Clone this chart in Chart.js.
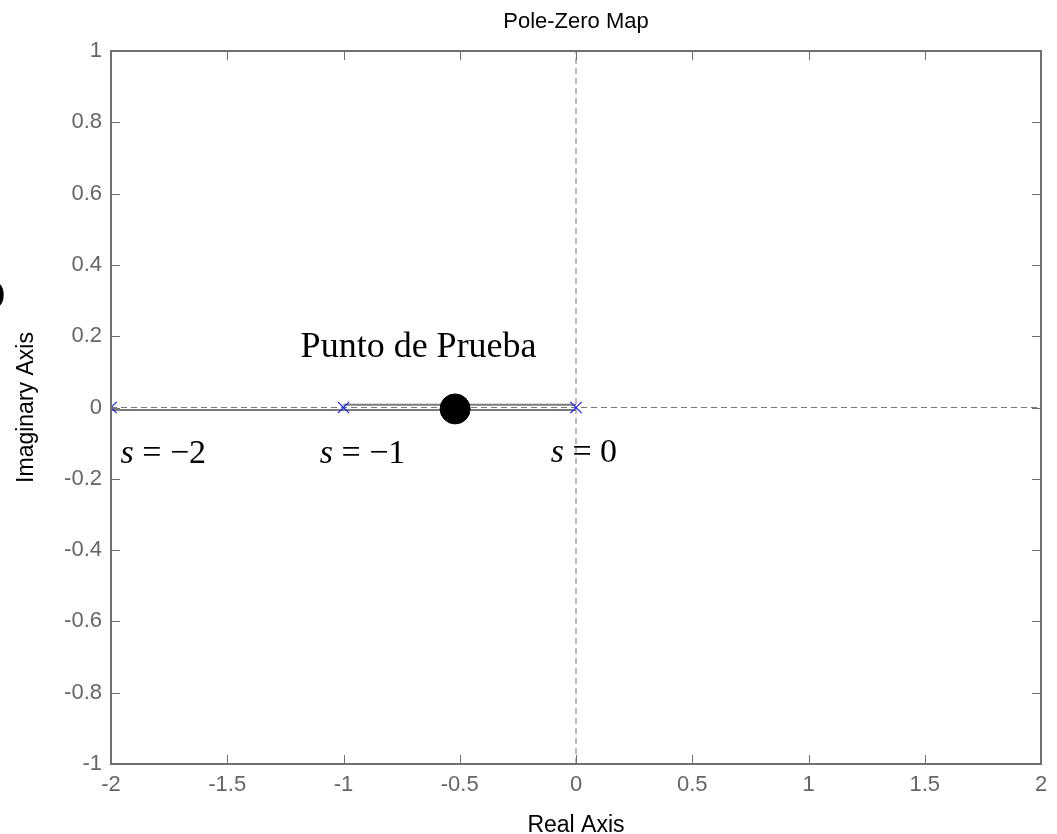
<!DOCTYPE html>
<html>
<head>
<meta charset="utf-8">
<script src="https://cdn.jsdelivr.net/npm/chart.js@4.4.1/dist/chart.umd.min.js"></script>
<style>
  html, body { margin: 0; padding: 0; background: #fff; }
  #wrap { width: 1057px; height: 834px; position: relative; }
</style>
</head>
<body>
<div id="wrap"><canvas id="myChart" width="1057" height="834"></canvas></div>
<script>
// polos del sistema
var poleX = [-2, -1, 0];
var poleY = [0, 0, 0];
// lugar de raices (segmentos sobre el eje real)
var locusLowX = [-2, 0];
var locusLowY = [-0.007, -0.007];
var locusHighX = [-1, 0];
var locusHighY = [0.008, 0.008];
// punto de prueba
var testX = [-0.52];
var testY = [-0.004];
// ejes
var xTicks = [-2, -1.5, -1, -0.5, 0, 0.5, 1, 1.5, 2];
var yTicks = [-1, -0.8, -0.6, -0.4, -0.2, 0, 0.2, 0.4, 0.6, 0.8, 1];
// etiquetas
var labelText = ['Punto de Prueba', 's = \u22122', 's = \u22121', 's = 0'];
var labelX = [-0.677, -1.775, -0.918, 0.034];
var labelY = [0.141, -0.155, -0.155, -0.152];

function pts(xs, ys) {
  return xs.map(function (x, i) { return { x: x, y: ys[i] }; });
}

var grayAxis = '#707070';
var sans = '"Liberation Sans", Arial, sans-serif';
var serif = '"Liberation Serif", "Times New Roman", serif';

// ticks hacia adentro en los cuatro lados, caja y textos
var boxPlugin = {
  id: 'box',
  afterDatasetsDraw: function (chart) {
    var c = chart.ctx, a = chart.chartArea;
    var sx = chart.scales.x, sy = chart.scales.y;
    c.save();
    c.strokeStyle = grayAxis;
    c.lineWidth = 1;
    c.beginPath();
    xTicks.forEach(function (v) {
      var px = Math.round(sx.getPixelForValue(v)) + 0.5;
      c.moveTo(px, a.bottom); c.lineTo(px, a.bottom - 9);
      c.moveTo(px, a.top); c.lineTo(px, a.top + 9);
    });
    yTicks.forEach(function (v) {
      var py = Math.round(sy.getPixelForValue(v)) + 0.5;
      c.moveTo(a.left, py); c.lineTo(a.left + 9, py);
      c.moveTo(a.right, py); c.lineTo(a.right - 9, py);
    });
    c.stroke();
    c.lineWidth = 2;
    c.strokeRect(a.left, a.top, a.right - a.left, a.bottom - a.top);

    // etiquetas de los puntos
    c.fillStyle = '#000';
    c.textBaseline = 'alphabetic';
    labelText.forEach(function (t, i) {
      var px = sx.getPixelForValue(labelX[i]);
      var py = sy.getPixelForValue(labelY[i]);
      if (i === 0) {
        c.textAlign = 'center';
        c.font = '36px ' + serif;
        c.fillText(t, px, py);
      } else {
        var s = 's';
        var rest = t.slice(1);
        c.font = 'italic 34px ' + serif;
        var w1 = c.measureText(s).width;
        c.font = '34px ' + serif;
        var w2 = c.measureText(rest).width;
        var x0 = px - (w1 + w2) / 2;
        c.textAlign = 'left';
        c.font = 'italic 34px ' + serif;
        c.fillText(s, x0, py);
        c.font = '34px ' + serif;
        c.fillText(rest, x0 + w1, py);
      }
    });

    // titulo y nombres de ejes
    c.fillStyle = '#000';
    c.textAlign = 'center';
    c.font = '22px ' + sans;
    c.fillText('Pole-Zero Map', (a.left + a.right) / 2, 28);
    c.font = '23px ' + sans;
    c.fillText('Real Axis', (a.left + a.right) / 2, 832);
    c.save();
    c.translate(33, (a.top + a.bottom) / 2);
    c.rotate(-Math.PI / 2);
    c.fillText('Imaginary Axis', 0, 0);
    c.restore();

    // resto de un simbolo recortado en el borde izquierdo
    c.font = 'bold 30px ' + serif;
    c.textAlign = 'right';
    c.textBaseline = 'middle';
    c.fillText(')', 5, 294);
    c.restore();
  }
};

var ctx = document.getElementById('myChart').getContext('2d');
var myChart = new Chart(ctx, {
  type: 'scatter',
  data: {
    datasets: [
      {
        label: 'polos',
        data: pts(poleX, poleY),
        pointStyle: 'crossRot',
        pointRadius: 8,
        pointBorderWidth: 1.2,
        borderColor: '#1a1aff',
        backgroundColor: '#1a1aff',
        order: 1
      },
      {
        label: 'punto',
        data: pts(testX, testY),
        pointRadius: 15,
        backgroundColor: '#000',
        borderColor: '#000',
        order: 0
      },
      {
        label: 'lugar1',
        data: pts(locusLowX, locusLowY),
        showLine: true,
        borderColor: '#7a7a7a',
        borderWidth: 2,
        pointRadius: 0,
        order: 2
      },
      {
        label: 'lugar2',
        data: pts(locusHighX, locusHighY),
        showLine: true,
        borderColor: '#7a7a7a',
        borderWidth: 2,
        pointRadius: 0,
        order: 2
      },
      {
        label: 'ejeReal',
        data: pts([-2, 2], [0, 0]),
        showLine: true,
        borderColor: '#777',
        borderWidth: 1,
        borderDash: [6, 4],
        pointRadius: 0,
        order: 3
      },
      {
        label: 'ejeImag',
        data: pts([0, 0], [-1, 1]),
        showLine: true,
        borderColor: '#777',
        borderWidth: 1,
        borderDash: [6, 4],
        pointRadius: 0,
        order: 3
      }
    ]
  },
  options: {
    responsive: false,
    animation: false,
    layout: { padding: { left: 0, right: 12, top: 51, bottom: 0 } },
    plugins: { legend: { display: false }, tooltip: { enabled: false } },
    scales: {
      x: {
        type: 'linear',
        min: -2, max: 2,
        afterFit: function (s) { s.height = 70; s.paddingLeft = 0; s.paddingRight = 0; },
        afterBuildTicks: function (s) { s.ticks = xTicks.map(function (v) { return { value: v }; }); },
        grid: { drawOnChartArea: false, drawTicks: false },
        border: { display: false },
        ticks: {
          color: '#666',
          font: { family: sans, size: 22 },
          padding: 8,
          maxRotation: 0,
          callback: function (v) { return String(v); }
        }
      },
      y: {
        type: 'linear',
        min: -1, max: 1,
        afterFit: function (s) { s.width = 111; s.paddingTop = 0; s.paddingBottom = 0; },
        afterBuildTicks: function (s) { s.ticks = yTicks.map(function (v) { return { value: v }; }); },
        grid: { drawOnChartArea: false, drawTicks: false },
        border: { display: false },
        ticks: {
          color: '#666',
          font: { family: sans, size: 22 },
          padding: 9,
          callback: function (v) { return String(v); }
        }
      }
    }
  },
  plugins: [boxPlugin]
});
</script>
</body>
</html>
